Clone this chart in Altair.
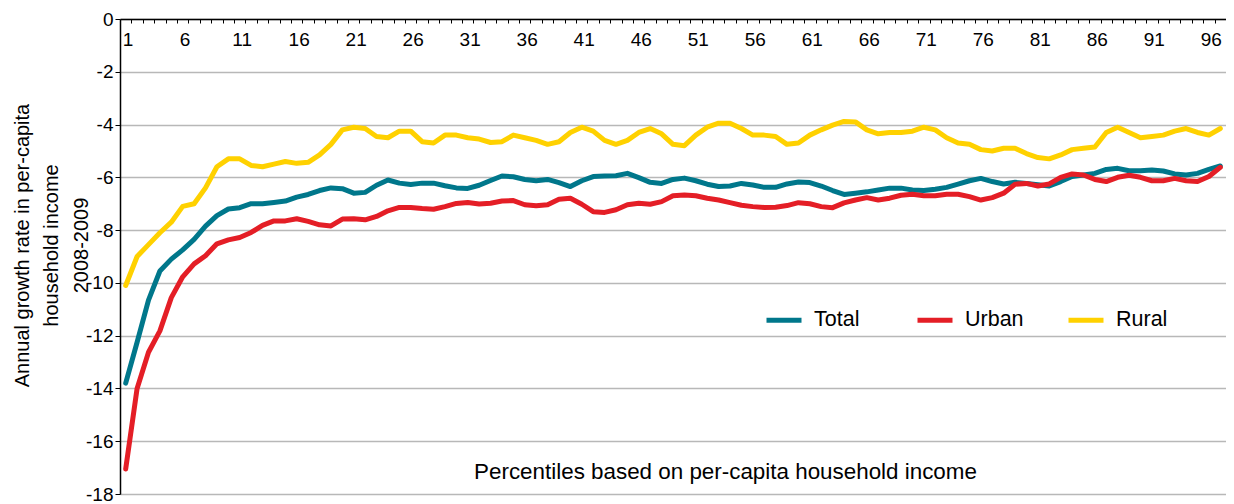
import altair as alt
import pandas as pd

# ---------------- data ----------------
percentiles = list(range(1, 98))

total = [-13.8, -12.25, -10.65, -9.55, -9.1, -8.75, -8.35, -7.85, -7.45, -7.2,
         -7.15, -7.0, -7.0, -6.95, -6.9, -6.75, -6.65, -6.5, -6.4, -6.43,
         -6.6, -6.57, -6.3, -6.1, -6.22, -6.27, -6.22, -6.22, -6.32, -6.4,
         -6.42, -6.3, -6.12, -5.95, -5.98, -6.08, -6.13, -6.08, -6.2, -6.35,
         -6.13, -5.97, -5.95, -5.94, -5.85, -6.01, -6.19, -6.23, -6.08, -6.03,
         -6.13, -6.26, -6.35, -6.33, -6.23, -6.29, -6.38, -6.38, -6.25, -6.18,
         -6.2, -6.33, -6.5, -6.65, -6.6, -6.55, -6.48, -6.41, -6.41, -6.48,
         -6.5, -6.45, -6.38, -6.26, -6.13, -6.04, -6.16, -6.25, -6.19, -6.23,
         -6.28, -6.33, -6.16, -5.97, -5.91, -5.85, -5.7, -5.66, -5.75, -5.75,
         -5.72, -5.76, -5.87, -5.91, -5.85, -5.7, -5.57]

urban = [-17.05, -14.0, -12.63, -11.82, -10.56, -9.77, -9.28, -8.97, -8.52, -8.37,
         -8.28, -8.09, -7.82, -7.65, -7.65, -7.57, -7.67, -7.8, -7.84, -7.58,
         -7.57, -7.61, -7.48, -7.27, -7.14, -7.14, -7.18, -7.21, -7.11, -6.99,
         -6.95, -7.01, -6.98, -6.9, -6.88, -7.04, -7.08, -7.04, -6.83, -6.79,
         -7.02, -7.3, -7.33, -7.23, -7.04, -6.98, -7.02, -6.92, -6.7, -6.67,
         -6.7, -6.79, -6.86, -6.96, -7.06, -7.11, -7.14, -7.13, -7.07, -6.96,
         -7.0, -7.11, -7.15, -6.97, -6.86, -6.77, -6.86, -6.79, -6.68, -6.64,
         -6.7, -6.7, -6.64, -6.64, -6.73, -6.86, -6.77, -6.6, -6.26, -6.23,
         -6.33, -6.25, -6.0, -5.87, -5.91, -6.08, -6.16, -6.0, -5.92, -6.0,
         -6.13, -6.13, -6.04, -6.13, -6.16, -5.97, -5.62]

rural = [-10.1, -9.0, -8.55, -8.1, -7.7, -7.1, -7.0, -6.4, -5.6, -5.3,
         -5.3, -5.55, -5.6, -5.5, -5.4, -5.47, -5.43, -5.15, -4.75, -4.2,
         -4.1, -4.15, -4.45, -4.5, -4.25, -4.25, -4.65, -4.7, -4.4, -4.4,
         -4.5, -4.55, -4.68, -4.65, -4.4, -4.5, -4.6, -4.75, -4.65, -4.3,
         -4.1, -4.25, -4.6, -4.75, -4.6, -4.3, -4.15, -4.35, -4.75, -4.8,
         -4.4, -4.1, -3.95, -3.95, -4.15, -4.4, -4.4, -4.45, -4.75, -4.7,
         -4.4, -4.2, -4.02, -3.88, -3.9, -4.2, -4.35, -4.3, -4.3, -4.25,
         -4.1, -4.2, -4.5, -4.7, -4.75, -4.95, -5.0, -4.9, -4.9, -5.1,
         -5.25, -5.3, -5.15, -4.95, -4.9, -4.85, -4.3, -4.1, -4.3, -4.5,
         -4.45, -4.4, -4.25, -4.15, -4.3, -4.4, -4.15]

series_names = ["Total", "Urban", "Rural"]
series_colors = ["#00778B", "#E41E26", "#FFD100"]

y_ticks = [-18, -16, -14, -12, -10, -8, -6, -4, -2, 0]
x_tick_marks = [k + 0.5 for k in percentiles]  # band boundaries 1.5 .. 97.5

y_title = ["Annual growth rate in per-capita", "household income", "2008-2009"]
x_title = "Percentiles based on per-capita household income"

rows = []
for name, vals in zip(series_names, [total, urban, rural]):
    for p, v in zip(percentiles, vals):
        rows.append({"percentile": p, "rate": v, "series": name})
df = pd.DataFrame(rows)

FONT = "Liberation Sans"
W, H = 1106, 475

chart = alt.Chart(df).mark_line(
    strokeWidth=5, strokeCap="round", strokeJoin="round"
).encode(
    x=alt.X(
        "percentile:Q",
        scale=alt.Scale(domain=[0.5, 97.5], nice=False, zero=False),
        axis=alt.Axis(
            orient="bottom", offset=-H, values=x_tick_marks,
            labelExpr="(datum.value - 1.5) % 5 === 0 ? '' + (datum.value - 0.5) : ''",
            labelOffset=-3.8, labelPadding=7, labelBaseline="top",
            labelFontSize=19, labelFont=FONT, labelColor="black",
            labelOverlap=False, labelFlush=False,
            tickSize=4, tickColor="black", tickWidth=1,
            domainColor="black", domainWidth=1.5, grid=False,
            title=x_title, titleX=605, titleY=452, titleAlign="center",
            titleBaseline="middle", titleFontSize=22.4, titleFont=FONT,
            titleFontWeight="normal", titleColor="black",
        ),
    ),
    y=alt.Y(
        "rate:Q",
        scale=alt.Scale(domain=[-18, 0], nice=False, zero=False),
        axis=alt.Axis(
            values=y_ticks, labelExpr="'' + datum.value",
            labelFontSize=19, labelFont=FONT, labelColor="black", labelPadding=2,
            tickSize=5, tickColor="black", tickWidth=1,
            domainColor="black", domainWidth=1.5,
            grid=True, gridColor="#B8B8B8", gridWidth=1.3,
            title=y_title, titleAngle=270, titleX=-92, titleY=226,
            titleAlign="center", titleBaseline="alphabetic", titleLineHeight=29.5,
            titleFontSize=20, titleFont=FONT, titleFontWeight="normal",
            titleColor="black",
        ),
    ),
    color=alt.Color(
        "series:N",
        sort=series_names,
        scale=alt.Scale(domain=series_names, range=series_colors),
        legend=alt.Legend(
            orient="none", legendX=644, legendY=281, direction="horizontal",
            title=None, symbolType="stroke", symbolSize=1225, symbolStrokeWidth=5,
            labelFontSize=21.5, labelFont=FONT, labelColor="black", labelOffset=10,
            columnPadding=34, gridAlign="all", padding=0,
        ),
    ),
).properties(
    width=W, height=H,
    padding={"left": 112, "top": 11, "right": 0, "bottom": 10},
    autosize=alt.AutoSizeParams(type="none"),
).configure_view(stroke="transparent").configure(background="white")

chart.save("out.html", embed_options={"renderer": "svg", "actions": False})
